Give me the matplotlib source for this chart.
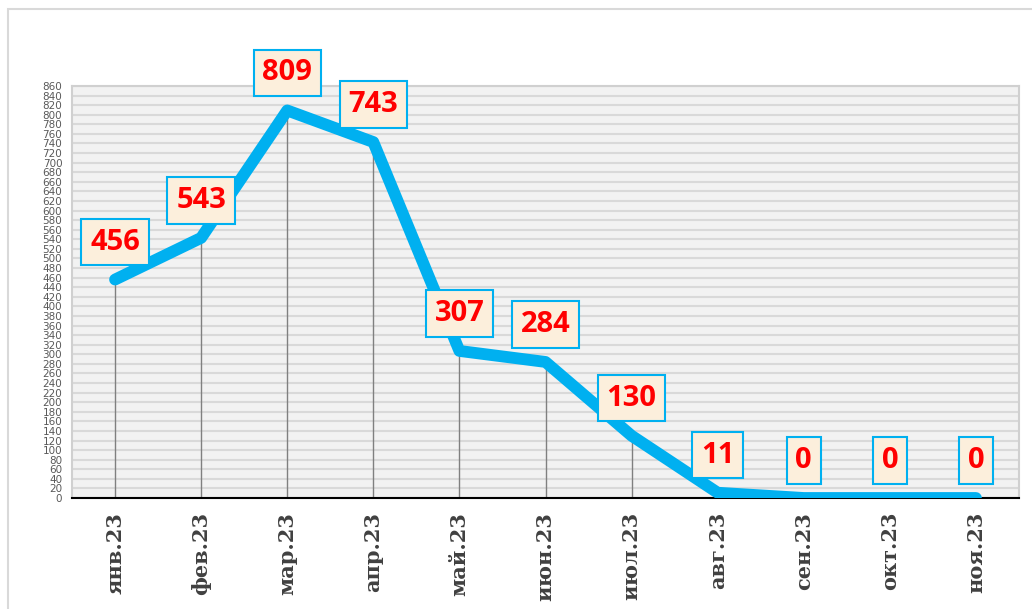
import numpy as np
import matplotlib
matplotlib.use("Agg")
import matplotlib.pyplot as plt
from matplotlib.patches import Rectangle

months = ["янв.23", "фев.23", "мар.23", "апр.23", "май.23", "июн.23",
          "июл.23", "авг.23", "сен.23", "окт.23", "ноя.23"]
values = [456, 543, 809, 743, 307, 284, 130, 11, 0, 0, 0]
yticks = np.arange(0, 861, 20)

line_color = "#00b0f0"

# --------------------------------------------------------------------------- #
fig = plt.figure(figsize=(10.32, 6.09), dpi=100)
fig.patch.set_facecolor("white")

# outer frame of the chart object
fig.patches.append(Rectangle((8 / 1032, -0.05), 1.1, 1 - 9 / 609 + 0.05,
                             transform=fig.transFigure, fill=False,
                             edgecolor="#d9d9d9", lw=1.5))

ax = fig.add_axes([72 / 1032, 1 - 498 / 609, (1019 - 72) / 1032, (498 - 86) / 609])
ax.set_facecolor("#f2f2f2")

x = np.arange(len(months))

# drop lines
ax.vlines(x, 0, values, color="#808080", lw=1, zorder=2)

ax.plot(x, values, color=line_color, lw=8.5, solid_capstyle="round",
        solid_joinstyle="round", zorder=3)

for xi, v in zip(x, values):
    ax.annotate(str(v), (xi, v), xytext=(0, 27), textcoords="offset points",
                ha="center", va="center", fontsize=21, fontweight="bold",
                family="Open Sans", color="#ff0000", zorder=5,
                bbox=dict(boxstyle="square,pad=0.3", fc="#fcefdc",
                          ec=line_color, lw=1.5))

ax.set_xlim(-0.5, len(months) - 0.5)
ax.set_ylim(0, 860)
ax.set_yticks(yticks)
ax.set_yticklabels([str(t) for t in yticks], fontsize=7.5, color="#595959")
ax.yaxis.grid(True, color="#d9d9d9", lw=1.5)
ax.set_axisbelow(True)
ax.tick_params(axis="y", length=0, pad=7)

ax.set_xticks(x)
ax.set_xticklabels(months, rotation=90, fontsize=15, fontweight="bold",
                   family="DejaVu Serif", color="#404040")
ax.tick_params(axis="x", length=0, pad=10)

for side in ["left", "top", "right"]:
    ax.spines[side].set_color("#d0d0d0")
    ax.spines[side].set_linewidth(1.5)
ax.spines["bottom"].set_color("#000000")
ax.spines["bottom"].set_linewidth(1.5)

plt.savefig("out.png", dpi=100)
